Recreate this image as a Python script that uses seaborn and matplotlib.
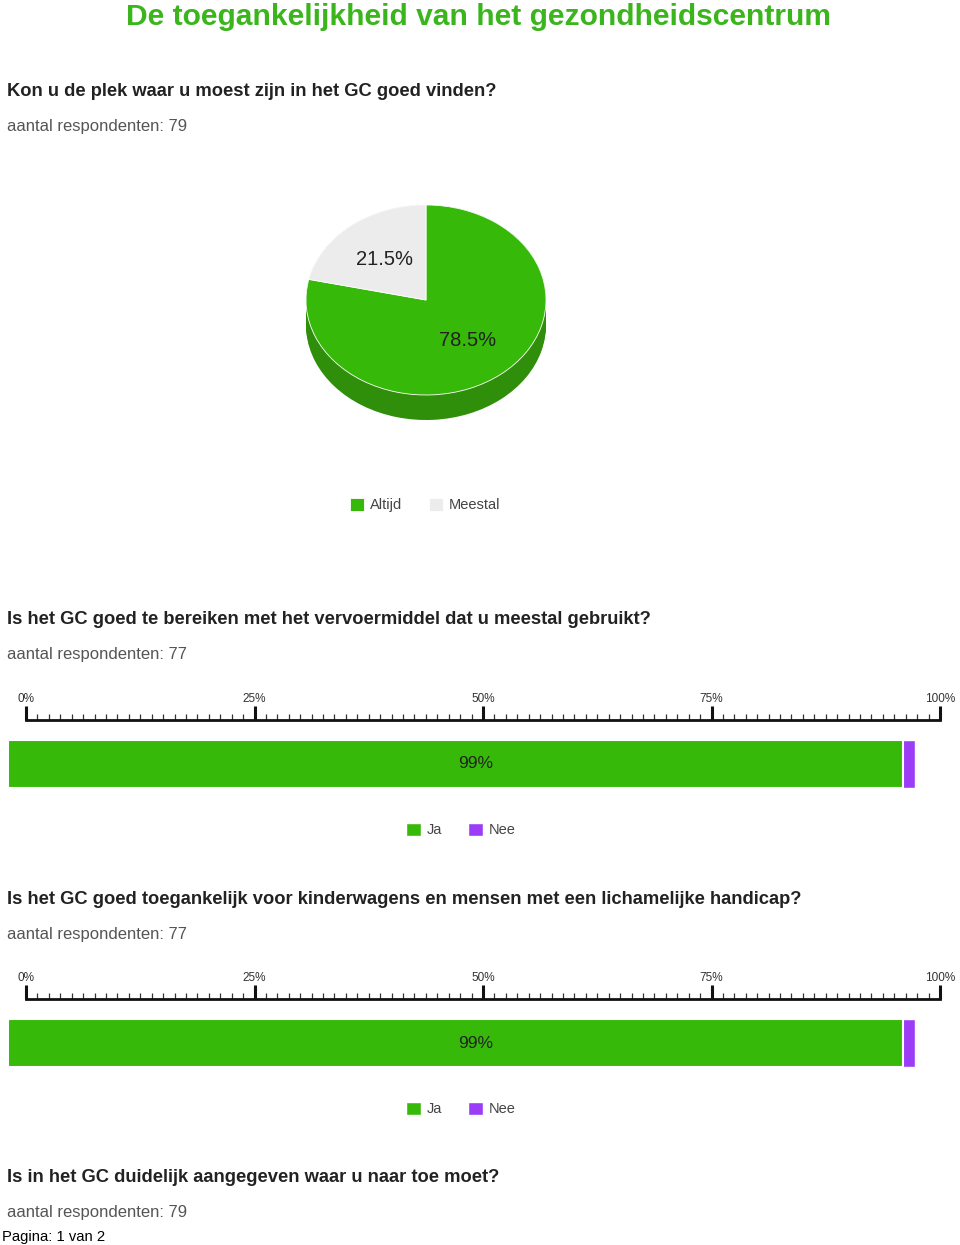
import numpy as np
import matplotlib
matplotlib.use("Agg")
import matplotlib.pyplot as plt
from matplotlib.patches import Patch
import seaborn as sns

# ---------------- data ----------------
title = "De toegankelijkheid van het gezondheidscentrum"
questions = [
    "Kon u de plek waar u moest zijn in het GC goed vinden?",
    "Is het GC goed te bereiken met het vervoermiddel dat u meestal gebruikt?",
    "Is het GC goed toegankelijk voor kinderwagens en mensen met een lichamelijke handicap?",
    "Is in het GC duidelijk aangegeven waar u naar toe moet?",
]
respondents = [79, 77, 77, 79]

pie_labels = ["Altijd", "Meestal"]
pie_counts = [62, 17]

bar_labels = ["Ja", "Nee"]
q2_counts = [76, 1]
q3_counts = [76, 1]

ruler_major = [0, 25, 50, 75, 100]
ruler_major_labels = ["0%", "25%", "50%", "75%", "100%"]
ruler_minor_step = 1.25

footer = "Pagina: 1 van 2"

# ---------------- style ----------------
GREEN = "#37b90a"
SIDE = "#2f8f0b"
GREY = "#ececec"
PURPLE = "#9b3cf6"
TITLE_GREEN = "#3ab51c"

sns.set_theme(style="white")
plt.rcParams["font.family"] = ["Liberation Sans", "DejaVu Sans"]

W, H = 960, 1245
fig = plt.figure(figsize=(W / 100, H / 100), dpi=100)
fig.patch.set_facecolor("white")


def ax_px(x0, y0, x1, y1):
    return fig.add_axes([x0 / W, 1 - y1 / H, (x1 - x0) / W, (y1 - y0) / H])


def ftext(x, y, s, **kw):
    fig.text(x / W, 1 - y / H, s, va="center", **kw)


# ---------------- texts ----------------
ftext(478, 17, title, ha="center", fontsize=21.6, fontweight="bold", color=TITLE_GREEN)

q_y = [92, 620, 899, 1178]
for q, r, y in zip(questions, respondents, q_y):
    ftext(7, y, q, ha="left", fontsize=13.2, fontweight="bold", color="#222222")
    ftext(7, y + 35, f"aantal respondenten: {r}", ha="left", fontsize=12, color="#555555")

ftext(2, 1237, footer, ha="left", fontsize=10.6, color="#000000")

# ---------------- pie ----------------
pax = ax_px(296, 195, 556, 430)
depth = 25 / 95
for d in np.linspace(depth, 0, 16):
    pax.pie(pie_counts, colors=[SIDE, SIDE], center=(0, -d), startangle=90,
            counterclock=False, wedgeprops=dict(linewidth=0))
wedges, texts, autotexts = pax.pie(
    pie_counts, colors=[GREEN, GREY], startangle=90, counterclock=False,
    autopct="%.1f%%", pctdistance=0.55,
    wedgeprops=dict(linewidth=0.6, edgecolor="white"),
    textprops=dict(fontsize=14.5, color="#222222"))
pax.set_aspect("auto")
pax.set_xlim(-260 / 240, 260 / 240)
pax.set_ylim(-130 / 95, 105 / 95)
pax.axis("off")

fig.legend(wedges, pie_labels, loc="center", bbox_to_anchor=(425 / W, 1 - 505 / H),
           ncol=2, frameon=False, fontsize=10.5, handlelength=1.0, handleheight=1.0,
           handletextpad=0.4, columnspacing=1.8, labelcolor="#444444")


# ---------------- bar blocks ----------------
def bar_block(counts, top):
    # ruler
    rax = ax_px(26, top + 84, 940, top + 102)
    rax.set_xlim(0, 100)
    rax.set_ylim(0, 1)
    for s in ["top", "left", "right"]:
        rax.spines[s].set_visible(False)
    rax.spines["bottom"].set_linewidth(2)
    rax.spines["bottom"].set_color("#111111")
    rax.set_yticks([])
    rax.set_xticks(ruler_major)
    rax.set_xticklabels(ruler_major_labels)
    rax.set_xticks(np.arange(0, 100 + 1e-9, ruler_minor_step), minor=True)
    rax.tick_params(axis="x", which="major", direction="in", length=10, width=2.2,
                    color="#111111", bottom=True, top=False, labelbottom=False,
                    labeltop=True, labelsize=8.5, labelcolor="#333333", pad=-2)
    rax.tick_params(axis="x", which="minor", direction="in", length=4.2, width=0.9,
                    color="#333333", bottom=True, top=False)
    for lab in rax.get_xticklabels():
        lab.set_x(lab.get_position()[0])
    rax.patch.set_alpha(0)

    # stacked bar
    total = sum(counts)
    pct = [100 * c / total for c in counts]
    bax = ax_px(8, top + 122, 915, top + 170)
    sns.barplot(x=[pct[0] + pct[1]], y=[0], orient="h", color=PURPLE, saturation=1,
                width=1.0, ax=bax)
    sns.barplot(x=[pct[0]], y=[0], orient="h", color=GREEN, saturation=1,
                width=1.0, ax=bax, linewidth=1.5, edgecolor="white")
    bax.set_xlim(0, 100)
    bax.set_ylim(0.5, -0.5)
    bax.axis("off")
    bax.text(51.6, 0, f"{round(pct[0])}%", ha="center", va="center", fontsize=12.5,
             color="#222222")
    handles = [Patch(facecolor=GREEN), Patch(facecolor=PURPLE)]
    fig.legend(handles, bar_labels, loc="center", bbox_to_anchor=(461 / W, 1 - (top + 212) / H),
               ncol=2, frameon=False, fontsize=10.5, handlelength=1.0, handleheight=1.0,
               handletextpad=0.4, columnspacing=1.8, labelcolor="#444444")


bar_block(q2_counts, 618)
bar_block(q3_counts, 897)

fig.savefig("out.png", dpi=100, facecolor="white")
